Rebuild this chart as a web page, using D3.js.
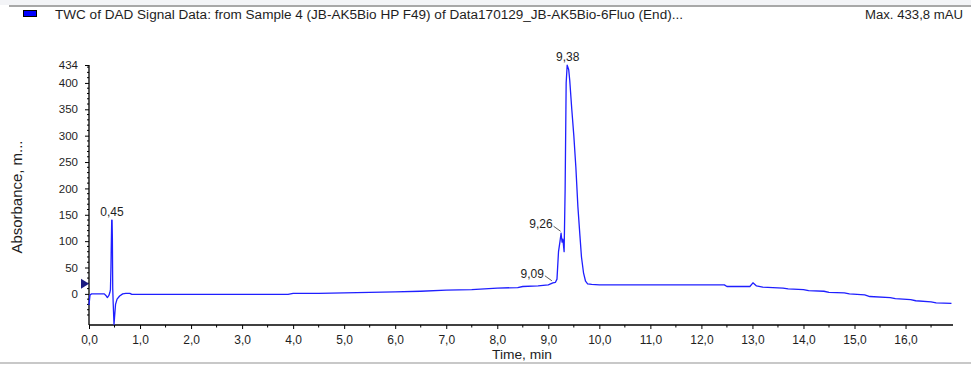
<!DOCTYPE html>
<html><head><meta charset="utf-8">
<script src="https://cdn.jsdelivr.net/npm/d3@7"></script>
<style>
body{margin:0;background:#fff;}
svg{display:block;font-family:"Liberation Sans",Arial,sans-serif;}
</style></head>
<body><svg id="c" width="971" height="365"></svg>
<script>
// ---- data ----
const times = [0.00,0.02,0.05,0.30,0.33,0.36,0.39,0.41,0.42,0.43,0.445,0.452,0.458,0.465,0.475,0.49,0.50,0.52,0.55,0.60,0.66,0.72,0.80,0.84,
  1.5,2.5,3.0,3.9,4.0,4.5,5.0,5.5,6.0,6.5,7.0,7.5,8.0,8.4,8.5,8.8,9.0,9.09,9.14,9.17,9.20,9.23,9.25,9.27,9.285,9.31,
  9.33,9.35,9.37,9.40,9.42,9.46,9.50,9.54,9.58,9.62,9.65,9.69,9.73,9.77,9.85,10.0,11.0,12.0,12.45,12.5,12.95,13.01,13.08,
  13.2,13.6,13.7,14.0,14.1,14.4,14.5,14.8,14.9,15.2,15.3,15.7,15.8,16.1,16.2,16.5,16.6,16.9];
const absorbance = [-21,-2,0,0,-3,-7,-3,3,8,50,140,140,106,10,-20,-58,-45,-20,-10,-4,0,1,1,-1,
  -1,-1,-1,-1,1,1,2,3,4,5,7,8,11,12,14,15,17,21,22,28,80,100,115,98,104,80,
  200,400,433.8,425,405,350,300,240,165,110,70,40,24,19,18,17,17,17,17,14,14,21,15,
  13,11,9.5,8,6,5,3,2,0,-2,-5,-7,-9,-11,-13,-15,-17,-18];
const xTicks = [0,1,2,3,4,5,6,7,8,9,10,11,12,13,14,15,16];
const yTicks = [0,50,100,150,200,250,300,350,400,434];
const peakTimes = [0.45,9.09,9.26,9.38];
const peakLabels = ["0,45","9,09","9,26","9,38"];
const peakHeights = [140,21,115,433.8];
const title = "TWC of DAD Signal Data: from Sample 4 (JB-AK5Bio HP F49) of Data170129_JB-AK5Bio-6Fluo (End)...";
const maxText = "Max. 433,8 mAU";
const markerLevel = 19;

// ---- layout ----
const svg = d3.select("#c");
const L = 89, R = 953, T = 65, B = 325;
const x = d3.scaleLinear().domain([0,16.93]).range([L,R]);
const y = d3.scaleLinear().domain([-59,434]).range([B,T]);
const fmt = v => d3.format(".1f")(v).replace(".",",");
const txt = "#1e1e1e";

// header
svg.append("rect").attr("x",0).attr("y",0).attr("width",971).attr("height",5).attr("fill","#f3f4f7");
svg.append("rect").attr("x",9).attr("y",5).attr("width",962).attr("height",2).attr("fill","#a8a8a8");
svg.append("rect").attr("x",23.5).attr("y",10.5).attr("width",13).attr("height",6).attr("fill","#0000ff").attr("stroke","#000").attr("stroke-width",1);
svg.append("text").attr("x",55).attr("y",18.5).attr("font-size",12.5).attr("fill",txt)
  .attr("textLength",628).attr("lengthAdjust","spacingAndGlyphs").text(title);
svg.append("text").attr("x",865).attr("y",18.5).attr("font-size",12.5).attr("fill",txt)
  .attr("textLength",98).attr("lengthAdjust","spacingAndGlyphs").text(maxText);
// bottom divider
svg.append("rect").attr("x",0).attr("y",362).attr("width",971).attr("height",2).attr("fill","#c8c8c8");

// axes
const xAxis = d3.axisBottom(x).tickValues(xTicks).tickFormat(fmt).tickSize(4).tickPadding(6);
const gx = svg.append("g").attr("transform",`translate(0,${B})`).call(xAxis);
const yAxis = d3.axisLeft(y).tickValues(yTicks).tickFormat(d3.format("d")).tickSize(4).tickPadding(7);
const gy = svg.append("g").attr("transform",`translate(${L},0)`).call(yAxis);
[gx,gy].forEach(g=>{
  g.select(".domain").attr("stroke","#000").attr("stroke-width",1.3);
  g.selectAll(".tick line").attr("stroke","#000");
  g.selectAll(".tick text").attr("fill",txt).attr("font-family","Liberation Sans,Arial,sans-serif");
});
gx.selectAll(".tick text").attr("font-size",12);
gy.selectAll(".tick text").attr("font-size",11.5);
gx.select(".domain").attr("d",`M${L},0H${R}`);
gy.select(".domain").attr("d",`M0,${T}V${B}`);
// minor ticks
const xMinor = d3.range(0.5,16.93,1);
svg.append("g").selectAll("line").data(xMinor).join("line")
  .attr("x1",d=>x(d)).attr("x2",d=>x(d)).attr("y1",B).attr("y2",B+2.5).attr("stroke","#000");
const yMinor = d3.range(-50,434,10).filter(v=>v%50!==0);
svg.append("g").selectAll("line").data(yMinor).join("line")
  .attr("x1",L-2).attr("x2",L).attr("y1",d=>y(d)).attr("y2",d=>y(d)).attr("stroke","#000");

// axis titles
svg.append("text").attr("transform",`translate(22,${197}) rotate(-90)`).attr("text-anchor","middle")
  .attr("font-size",14).attr("fill",txt).attr("textLength",113).attr("lengthAdjust","spacingAndGlyphs").text("Absorbance, m...");
svg.append("text").attr("x",492).attr("y",359).attr("font-size",12.5).attr("fill",txt)
  .attr("textLength",60).attr("lengthAdjust","spacingAndGlyphs").text("Time, min");

// marker triangle
svg.append("path").attr("d",`M${L-8},${y(markerLevel)-5}L${L},${y(markerLevel)}L${L-8},${y(markerLevel)+5}Z`).attr("fill","#1a1a80");

// trace
const pts = times.map((t,i)=>[t,absorbance[i]]);
svg.append("path").datum(pts)
  .attr("d",d3.line().x(d=>x(d[0])).y(d=>y(d[1])))
  .attr("fill","none").attr("stroke","#1f1fff").attr("stroke-width",1.3).attr("stroke-linejoin","round");

// peak labels
peakTimes.forEach((t,i)=>{
  const px = x(t), py = y(peakHeights[i]);
  if (i===0 || i===3) {
    svg.append("text").attr("x",px).attr("y",py-4).attr("text-anchor","middle").attr("font-size",12).attr("fill",txt).text(peakLabels[i]);
  } else {
    svg.append("line").attr("x1",px-8).attr("y1",py-7).attr("x2",px-1).attr("y2",py-2).attr("stroke","#333").attr("stroke-width",0.8);
    svg.append("text").attr("x",px-9).attr("y",py-5).attr("text-anchor","end").attr("font-size",12).attr("fill",txt).text(peakLabels[i]);
  }
});
</script></body></html>
